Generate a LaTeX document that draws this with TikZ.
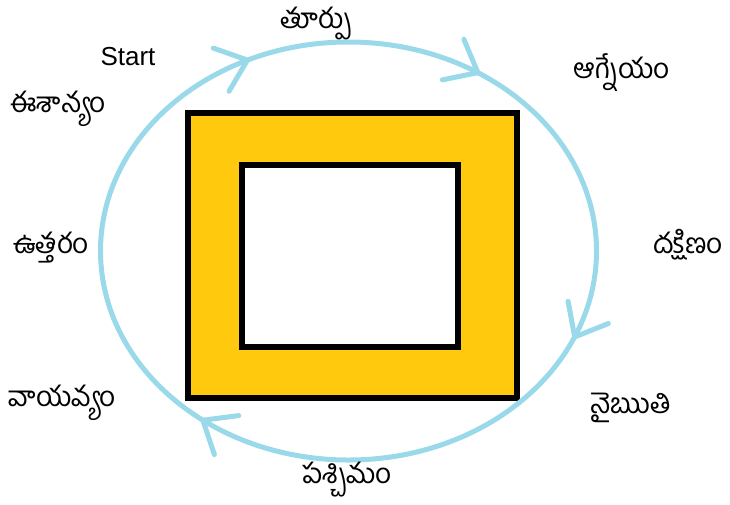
\documentclass[tikz,border=0pt]{standalone}
\usepackage{fontspec}
\setmainfont{Liberation Sans}
\newfontfamily\telugufont[Script=Telugu]{Hind Guntur}
\usepackage{xcolor}
\usepackage{tikz}
\usetikzlibrary{arrows.meta,decorations.markings}
\definecolor{amarelo}{RGB}{255,201,14}
\definecolor{azulClaro}{RGB}{153,217,234}
\tikzset{
    seta/.tip={Straight Barb[length=28pt,width=46pt,round]},
    rotulo/.style={
        anchor=base,
        inner sep=0pt,
        font=\telugufont\fontsize{28}{32}\selectfont
    },
    moldura/.style={draw=black, line width=6pt},
    orbita/.style={
        draw,
        color=azulClaro,
        line width=5pt,
        postaction={decorate},
        decoration={markings,
            mark=at position 0.064 with {\arrow{seta}},
            mark=at position 0.358 with {\arrow{seta}},
            mark=at position 0.680 with {\arrow{seta}},
            mark=at position 0.845 with {\arrow{seta}}
        }
    }
}

\begin{document}
\begin{tikzpicture}[x=1pt, y=-1pt]
    \useasboundingbox (0,0) rectangle (730,504);
    % quadro central
    \draw[moldura, fill=amarelo] (188.3,113.3) rectangle (516.7,397.5);
    \draw[moldura, fill=white] (241.7,164.5) rectangle (458.3,347.3);
    % percurso em volta
    \coordinate (centro) at (348.5,251);
    \draw[orbita] (centro) ellipse [x radius=248, y radius=209];

    \node[rotulo, font=\fontsize{26}{30}\selectfont] (start) at (128,65) {Start};
    \node[rotulo] (eastLabel) at (316,28) {తూర్పు};
    \node[rotulo] (southEastLabel) at (622,78) {ఆగ్నేయం};
    \node[rotulo] (southLabel) at (688,253) {దక్షిణం};
    \node[rotulo] (southWestLabel) at (631,413) {నైఋతి};
    \node[rotulo] (westLabel) at (347,483) {పశ్చిమం};
    \node[rotulo] (northWestLabel) at (62,406) {వాయవ్యం};
    \node[rotulo] (northLabel) at (51,253) {ఉత్తరం};
    \node[rotulo] (northEastLabel) at (58,112) {ఈశాన్యం};
\end{tikzpicture}
\end{document}
